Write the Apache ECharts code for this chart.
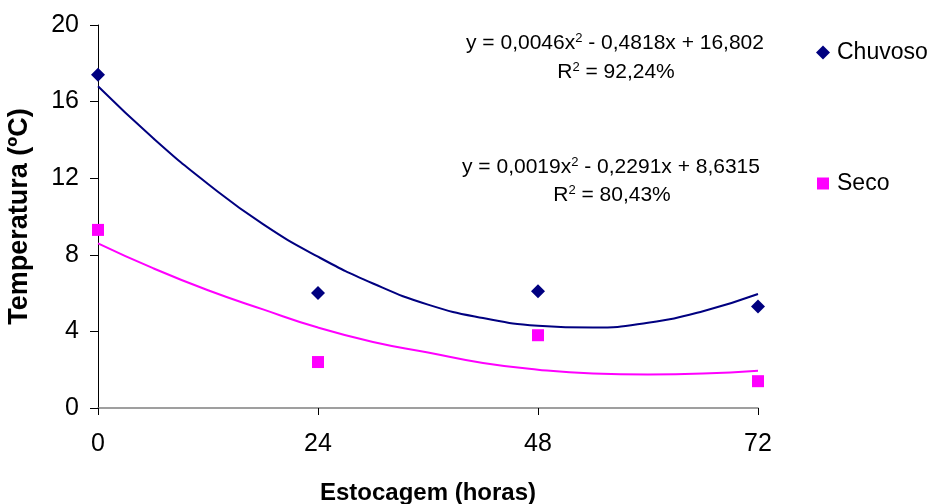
<!DOCTYPE html>
<html>
<head>
<meta charset="utf-8">
<script src="https://cdn.jsdelivr.net/npm/echarts@6/dist/echarts.min.js"></script>
<style>
  html, body { margin: 0; padding: 0; background: #fff; }
  #container { width: 933px; height: 504px; }
</style>
</head>
<body>
<div id="container"></div>
<script>
// dados
var hours = [0, 24, 48, 72];
var chuvosoPts = [17.4, 6.0, 6.1, 5.3];
var secoPts = [9.3, 2.4, 3.8, 1.4];

// linhas de tendência
var trendHours = [0, 6, 12, 18, 24, 30, 36, 42, 48, 54, 60, 66, 72];
var chuvosoTrend = [16.8, 14.1, 11.7, 9.6, 7.9, 6.5, 5.4, 4.7, 4.3, 4.2, 4.45, 5.05, 5.95];
var secoTrend = [8.6, 7.3, 6.15, 5.15, 4.2, 3.45, 2.9, 2.35, 2.0, 1.8, 1.75, 1.8, 1.95];

var yTicks = [0, 4, 8, 12, 16, 20];

// equações das tendências
var equations = [
    { text: '{a|y = 0,0046x}{s|2}{a| - 0,4818x + 16,802}', x: 615, y: 43 },
    { text: '{a|R}{s|2}{a| = 92,24%}', x: 616, y: 72 },
    { text: '{a|y = 0,0019x}{s|2}{a| - 0,2291x + 8,6315}', x: 611, y: 167 },
    { text: '{a|R}{s|2}{a| = 80,43%}', x: 612, y: 195 }
];

function pairs(xs, ys) {
    return xs.map(function (x, i) { return [x, ys[i]]; });
}

var font = 'Liberation Sans, Arial, sans-serif';
var dom = document.getElementById('container');
var myChart = echarts.init(dom, null, { renderer: 'canvas' });

var eqRich = {
    a: { fontSize: 21, fontFamily: font, color: '#000' },
    s: { fontSize: 13, fontFamily: font, color: '#000', padding: [0, 0, 10, 0] }
};

var option = {
    animation: false,
    textStyle: { fontFamily: font },
    grid: { left: 98, right: 175, top: 25, bottom: 96, containLabel: false, outerBoundsMode: 'none' },
    legend: [
        {
            data: [{ name: 'Chuvoso', icon: 'diamond' }],
            left: 811, top: 36,
            itemWidth: 14, itemHeight: 14, itemGap: 0,
            textStyle: { fontSize: 23, color: '#000', fontFamily: font, padding: [0, 0, 0, 2] }
        },
        {
            data: [{ name: 'Seco', icon: 'rect' }],
            left: 812, top: 167,
            itemWidth: 12, itemHeight: 12, itemGap: 0,
            textStyle: { fontSize: 23, color: '#000', fontFamily: font, padding: [0, 0, 0, 3] }
        }
    ],
    xAxis: {
        type: 'value',
        min: 0, max: 72, interval: 24,
        name: 'Estocagem (horas)',
        nameLocation: 'middle',
        nameGap: 73,
        nameTextStyle: { fontSize: 24, fontWeight: 'bold', color: '#000' },
        axisLine: { lineStyle: { color: '#808080', width: 1.5 } },
        axisTick: { show: true, length: 7, lineStyle: { color: '#000' } },
        axisLabel: { fontSize: 25, color: '#000', margin: 24 },
        splitLine: { show: false }
    },
    yAxis: {
        type: 'value',
        min: yTicks[0], max: yTicks[yTicks.length - 1], interval: 4,
        name: 'Temperatura (ºC)',
        nameLocation: 'middle',
        nameGap: 65,
        nameTextStyle: { fontSize: 27, fontWeight: 'bold', color: '#000' },
        axisLine: { show: true, lineStyle: { color: '#000', width: 1 } },
        axisTick: { show: true, length: 8, lineStyle: { color: '#000' } },
        axisLabel: { fontSize: 25, color: '#000', margin: 19 },
        splitLine: { show: false }
    },
    series: [
        {
            name: 'Chuvoso trend',
            type: 'line',
            data: pairs(trendHours, chuvosoTrend),
            smooth: true,
            showSymbol: false,
            lineStyle: { color: '#000080', width: 2 },
            z: 2
        },
        {
            name: 'Seco trend',
            type: 'line',
            data: pairs(trendHours, secoTrend),
            smooth: true,
            showSymbol: false,
            lineStyle: { color: '#FF00FF', width: 2 },
            z: 2
        },
        {
            name: 'Chuvoso',
            type: 'scatter',
            symbol: 'diamond',
            symbolSize: 14,
            itemStyle: { color: '#000080', opacity: 1 },
            data: pairs(hours, chuvosoPts),
            z: 3
        },
        {
            name: 'Seco',
            type: 'scatter',
            symbol: 'rect',
            symbolSize: 12,
            itemStyle: { color: '#FF00FF', opacity: 1 },
            data: pairs(hours, secoPts),
            z: 3
        }
    ],
    graphic: equations.map(function (eq) {
        return {
            type: 'text', x: eq.x, y: eq.y,
            style: { text: eq.text, rich: eqRich, align: 'center', verticalAlign: 'middle' }
        };
    })
};

myChart.setOption(option);
window.addEventListener('resize', myChart.resize);
</script>
</body>
</html>
